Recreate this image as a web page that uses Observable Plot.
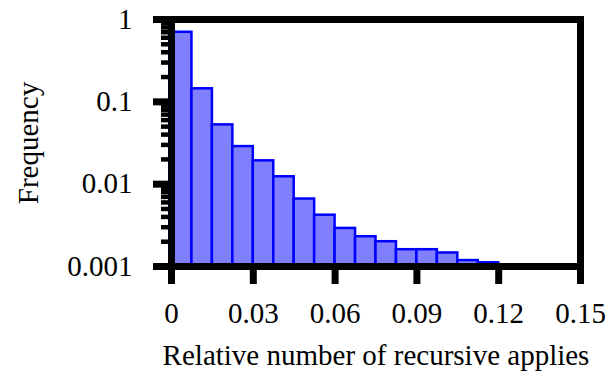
<!DOCTYPE html>
<html>
<head>
<meta charset="utf-8">
<script src="https://cdn.jsdelivr.net/npm/d3@7"></script>
<script src="https://cdn.jsdelivr.net/npm/@observablehq/plot@0.6"></script>
<style>
  html, body { margin: 0; padding: 0; background: #fff; }
  #chart svg { display: block; }
</style>
</head>
<body>
<div id="chart"></div>
<script>
// Histogram bins (left edge, right edge) and observed frequencies
const binLo = [0, 0.0075, 0.015, 0.0225, 0.03, 0.0375, 0.045, 0.0525, 0.06, 0.0675, 0.075, 0.0825, 0.09, 0.0975, 0.105, 0.1125];
const binHi = [0.0075, 0.015, 0.0225, 0.03, 0.0375, 0.045, 0.0525, 0.06, 0.0675, 0.075, 0.0825, 0.09, 0.0975, 0.105, 0.1125, 0.12];
const freq  = [0.70, 0.144, 0.0525, 0.0286, 0.0192, 0.0123, 0.0066, 0.0042, 0.0029, 0.0023, 0.0020, 0.0016, 0.0016, 0.00146, 0.00118, 0.00111];

const xTicks = [0, 0.03, 0.06, 0.09, 0.12, 0.15];
const xTickLabels = ["0", "0.03", "0.06", "0.09", "0.12", "0.15"];
const yTicks = [1, 0.1, 0.01, 0.001];
const yTickLabels = ["1", "0.1", "0.01", "0.001"];
const yMinor = [0.002, 0.003, 0.004, 0.005, 0.006, 0.007, 0.008, 0.009,
                0.02, 0.03, 0.04, 0.05, 0.06, 0.07, 0.08, 0.09,
                0.2, 0.3, 0.4, 0.5, 0.6, 0.7, 0.8, 0.9];
const xTitle = "Relative number of recursive applies";
const yTitle = "Frequency";

const bars = binLo.map((lo, i) => ({lo, hi: binHi[i], f: freq[i]}));
const FONT = "Liberation Serif, Times New Roman, serif";
const FS = 29;

const chart = Plot.plot({
  width: 616,
  height: 377,
  marginLeft: 171,
  marginRight: 36,
  marginTop: 19,
  marginBottom: 111,
  style: {fontFamily: FONT, fontSize: FS + "px", color: "#000", background: "#fff", overflow: "visible"},
  x: {type: "linear", domain: [0, 0.15]},
  y: {type: "log", domain: [0.001, 1]},
  marks: [
    Plot.rectY(bars, {x1: "lo", x2: "hi", y1: 0.001, y2: "f", fill: "#8080ff", stroke: "#0000ff", strokeWidth: 2.5}),
    Plot.axisY(yMinor, {anchor: "left", tickSize: 10, strokeWidth: 4.5, tickFormat: () => "", label: null}),
    Plot.axisY(yTicks, {anchor: "left", tickSize: 18, strokeWidth: 7, tickPadding: 21,
      tickFormat: (d) => yTickLabels[yTicks.indexOf(d)], label: null, fontSize: FS, fill: "#000"}),
    Plot.axisX(xTicks, {anchor: "bottom", tickSize: 18, strokeWidth: 7, tickPadding: 18,
      tickFormat: (d) => xTickLabels[xTicks.indexOf(d)], label: null, fontSize: FS, fill: "#000"}),
    Plot.frame({stroke: "#000", strokeWidth: 7}),
    Plot.text([xTitle], {frameAnchor: "bottom", textAnchor: "middle", lineAnchor: "middle", dy: 89, fontSize: FS, fill: "#000"}),
    Plot.text([yTitle], {frameAnchor: "left", textAnchor: "middle", lineAnchor: "middle", dx: -143, rotate: -90, fontSize: FS, fill: "#000"})
  ]
});
document.getElementById("chart").appendChild(chart);
</script>
</body>
</html>
